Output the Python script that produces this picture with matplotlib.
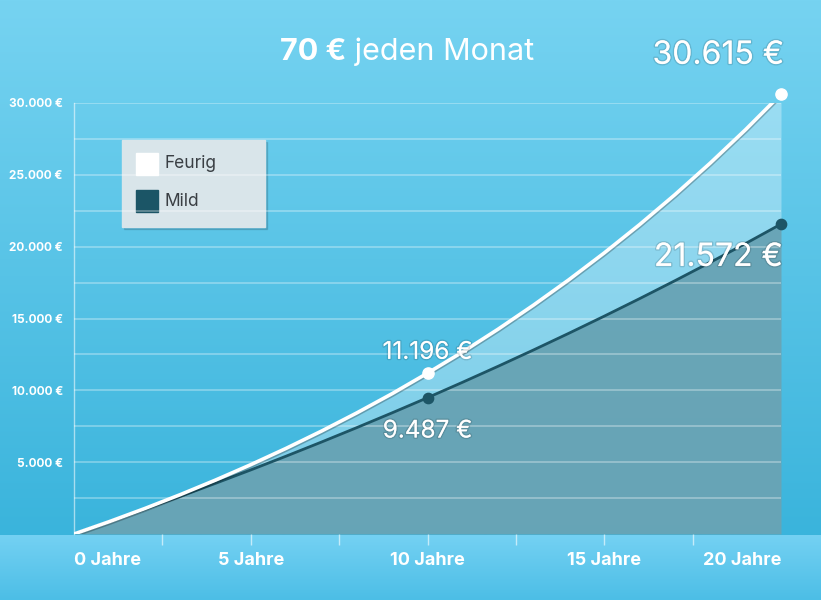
import matplotlib.pyplot as plt
import matplotlib.patheffects as pe
import numpy as np
from matplotlib.patches import Rectangle

plt.rcParams['font.family'] = ['Inter', 'DejaVu Sans']

# Jahre und Depotwerte
years = list(range(21))
feurig = [0, 862, 1772, 2734, 3751, 4826, 5961, 7161, 8429, 9769, 11196,
          12681, 14262, 15933, 17699, 19565, 21537, 23621, 25823, 28150, 30615]
mild = [0, 849, 1719, 2611, 3524, 4459, 5417, 6399, 7404, 8434, 9487,
        10570, 11677, 12811, 13973, 15163, 16382, 17631, 18910, 20221, 21572]

marked_years = [10, 20]
xtick_vals = [0, 5, 10, 15, 20]
xtick_labels = ['0 Jahre', '5 Jahre', '10 Jahre', '15 Jahre', '20 Jahre']
ytick_vals = [5000, 10000, 15000, 20000, 25000, 30000]

title_bold = '70 €'
title_rest = ' jeden Monat'

W, H = 821, 600
fig = plt.figure(figsize=(W / 100, H / 100), dpi=100)

# Hintergrund mit Farbverlauf
bg = fig.add_axes([0, 0, 1, 1])
bg.set_xlim(0, W)
bg.set_ylim(H, 0)
bg.axis('off')
top = np.array([118, 211, 241]) / 255
bot = np.array([58, 180, 220]) / 255
t = np.linspace(0, 1, 256)[:, None]
grad = (top * (1 - t) + bot * t)[:, None, :]
bg.imshow(grad, extent=[0, W, 535, 0], aspect='auto', zorder=0)
stop = np.array([116, 209, 243]) / 255
sbot = np.array([76, 190, 230]) / 255
grad2 = (stop * (1 - t) + sbot * t)[:, None, :]
bg.imshow(grad2, extent=[0, W, H, 535], aspect='auto', zorder=0)

ax = fig.add_axes([74 / W, 66 / H, (781 - 74) / W, (534 - 103) / H])
ax.set_facecolor('none')
ax.set_xlim(0, 20)
ax.set_ylim(0, 30000)
for s in ['top', 'right', 'bottom']:
    ax.spines[s].set_visible(False)
ax.spines['left'].set_color((1, 1, 1, 0.55))
ax.spines['left'].set_linewidth(1)

ax.fill_between(years, 0, mild, color=(0.42, 0.64, 0.70), alpha=0.92, lw=0, zorder=1)
ax.fill_between(years, mild, feurig, color='white', alpha=0.32, lw=0, zorder=1)

for g in np.arange(2500, 30001, 2500):
    ax.axhline(g, color='white', alpha=0.35, lw=1.2, zorder=2)

ax.plot(years, mild, color='#1d5566', lw=2, zorder=3, solid_capstyle='round')
ax.plot(years, feurig, color='white', lw=2.6, zorder=4, solid_capstyle='round',
        path_effects=[pe.SimpleLineShadow(offset=(0.5, -1), alpha=0.25), pe.Normal()])

fy = [feurig[y] for y in marked_years]
my = [mild[y] for y in marked_years]
ax.scatter(marked_years, my, s=55, color='#1d5566', zorder=5, clip_on=False)
ax.scatter(marked_years, fy, s=65, color='white', zorder=6, clip_on=False)

# Y-Achse
ax.set_yticks(ytick_vals)
ax.set_yticklabels([f'{v:,.0f} €'.replace(',', '.') for v in ytick_vals],
                   color='white', fontsize=8.5, fontweight='bold')
ax.tick_params(axis='y', length=0, pad=8)

# X-Achse: Teilstriche alle 2,5 Jahre
ax.set_xticks(np.arange(2.5, 20, 2.5))
ax.set_xticklabels([])
ax.tick_params(axis='x', length=8, width=1, color=(1, 1, 1, 0.6), direction='out')
for i, (v, lab) in enumerate(zip(xtick_vals, xtick_labels)):
    ha = 'left' if i == 0 else ('right' if i == len(xtick_vals) - 1 else 'center')
    ax.annotate(lab, xy=(v, 0), xycoords='data', xytext=(0, -19), textcoords='offset points',
                ha=ha, va='center', color='white', fontsize=13, fontweight='bold',
                annotation_clip=False)

shadow = [pe.withStroke(linewidth=2, foreground=(0, 0, 0, 0.12))]


def label(x, y, txt, dy, size, ha='center', dx=0):
    ax.annotate(txt, xy=(x, y), xytext=(dx, dy), textcoords='offset points',
                ha=ha, va='center', color='white', fontsize=size,
                path_effects=shadow, annotation_clip=False, zorder=7)


def fmt(v):
    return f'{v:,.0f} €'.replace(',', '.')


label(20, feurig[20], fmt(feurig[20]), 28, 23, ha='right', dx=2)
label(20, mild[20], fmt(mild[20]), -24, 23, ha='right', dx=1)
label(10, feurig[10], fmt(feurig[10]), 15, 17.5)
label(10, mild[10], fmt(mild[10]), -24, 17.5)

# Titel
tb = fig.text(280 / W, 1 - 52 / H, title_bold, color='white', fontsize=22,
              fontweight='bold', ha='left', va='center')
fig.canvas.draw()
bb = tb.get_window_extent()
fig.text(bb.x1 / W, 1 - 52 / H, title_rest, color='white', fontsize=22,
         ha='left', va='center')

# Legende
lg_x, lg_y, lg_w, lg_h = 122, 140, 143, 87
bg.add_patch(Rectangle((lg_x + 2, lg_y + 2), lg_w, lg_h, color=(0, 0, 0, 0.12), zorder=5))
bg.add_patch(Rectangle((lg_x, lg_y), lg_w, lg_h, color='#d9e5ea', zorder=6))
for i, (name, col) in enumerate([('Feurig', 'white'), ('Mild', '#1b5566')]):
    cy = 164 + i * 37
    bg.add_patch(Rectangle((136, cy - 11), 22, 22, color=col, zorder=7))
    bg.text(165, cy, name, color='#3a3f44', fontsize=12.5, va='center', ha='left', zorder=8)

fig.savefig('out.png', dpi=100)
